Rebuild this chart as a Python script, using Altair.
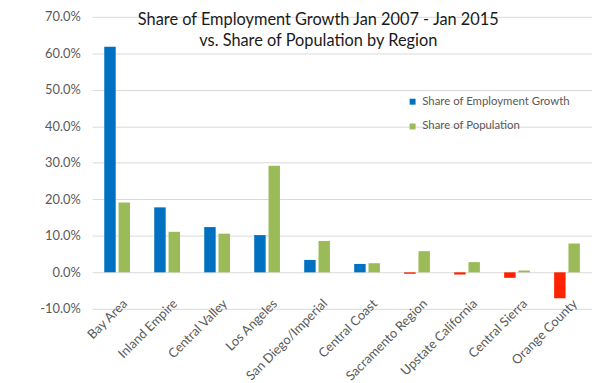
import altair as alt
import pandas as pd

regions = ["Bay Area", "Inland Empire", "Central Valley", "Los Angeles",
           "San Diego/Imperial", "Central Coast", "Sacramento Region",
           "Upstate California", "Central Sierra", "Orange County"]
employment_share = [0.618, 0.178, 0.124, 0.102, 0.034, 0.023, -0.004, -0.006, -0.015, -0.071]
population_share = [0.191, 0.111, 0.106, 0.292, 0.086, 0.025, 0.058, 0.028, 0.005, 0.079]

series_names = ["Share of Employment Growth", "Share of Population"]

rows = []
for r, e, p in zip(regions, employment_share, population_share):
    rows.append({"region": r, "series": series_names[0], "value": e,
                 "colorkey": series_names[0] if e >= 0 else "Negative"})
    rows.append({"region": r, "series": series_names[1], "value": p,
                 "colorkey": series_names[1]})
df = pd.DataFrame(rows)

FONT = "Lato"
GRAY = "#595959"

bars = alt.Chart(df).mark_bar().encode(
    x=alt.X("region:N", sort=regions, title=None,
            scale=alt.Scale(paddingInner=0.485, paddingOuter=0.2425),
            axis=alt.Axis(labelAngle=-45, labelAlign="right", labelBaseline="top",
                          labelPadding=-12, labelOffset=4, ticks=False, domain=False,
                          labelFontSize=13, labelColor=GRAY, labelFont=FONT, grid=False,
                          labelLimit=0)),
    xOffset=alt.XOffset("series:N", sort=series_names,
                        scale=alt.Scale(paddingInner=0.2)),
    y=alt.Y("value:Q", title=None,
            scale=alt.Scale(domain=[-0.1, 0.7], nice=False, zero=True),
            axis=alt.Axis(values=[-0.1, 0, 0.1, 0.2, 0.3, 0.4, 0.5, 0.6, 0.7],
                          format=".1%", ticks=False, domain=False, labelPadding=12,
                          labelExpr="replace(datum.label, '\u2212', '-')",
                          labelFontSize=13, labelColor=GRAY, labelFont=FONT,
                          gridColor="#D9D9D9", gridWidth=1)),
    color=alt.Color("colorkey:N",
                    scale=alt.Scale(domain=series_names + ["Negative"],
                                    range=["#0070C0", "#9BBB59", "#FF2200"]),
                    legend=alt.Legend(values=series_names, title=None, orient="none",
                                      legendX=318, legendY=80, symbolType="square",
                                      symbolSize=36, labelFontSize=11.5, labelFont=FONT,
                                      labelColor=GRAY, rowPadding=12, padding=0,
                                      symbolStrokeWidth=0, labelOffset=4, labelLimit=0)),
)

chart = bars.properties(
    width=505, height=295,
    autosize=alt.AutoSizeParams(type="none"),
    padding={"left": 85, "top": 7, "right": 0, "bottom": 73},
    title=alt.TitleParams(
        ["Share of Employment Growth Jan 2007 - Jan 2015",
         "vs. Share of Population by Region"],
        orient="top", anchor="middle", offset=0, dy=39, dx=-24,
        fontSize=16.5, font=FONT, fontWeight="normal", color="#1a1a1a", lineHeight=21),
).configure_view(stroke=None)

chart.save("out.html", embed_options={"renderer": "svg", "actions": False})
